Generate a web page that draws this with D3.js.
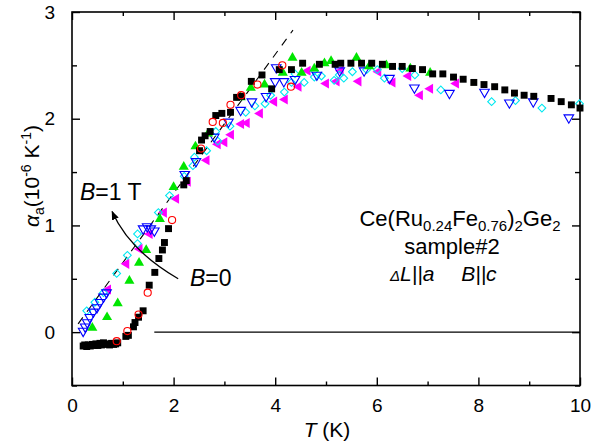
<!DOCTYPE html>
<html>
<head>
<meta charset="utf-8">
<script src="https://cdn.jsdelivr.net/npm/d3@7"></script>
<style>
  body { margin: 0; background: #fff; }
  svg { display: block; }
  text { font-family: "Liberation Sans", Arial, Helvetica, sans-serif; fill: #000; }
</style>
</head>
<body>
<svg id="chart" width="592" height="446"></svg>
<script>
// ---------- data ----------
const xLabelTicks = [0, 2, 4, 6, 8, 10];
const xAllTicks = [0, 1, 2, 3, 4, 5, 6, 7, 8, 9, 10];
const yLabelTicks = [0, 1, 2, 3];
const yAllTicks = [-0.5, 0, 0.5, 1, 1.5, 2, 2.5, 3];

// B = 0 (filled black squares)
const b0T = [0.22,0.25,0.29,0.32,0.36,0.40,0.44,0.47,0.51,0.55,0.58,0.62,0.66,0.70,0.74,0.78,0.82,0.86,0.90,
  1.06,1.11,1.21,1.24,1.31,1.40,1.52,1.63,1.71,1.78,1.82,1.90,2.20,2.25,
  2.51,2.55,2.62,2.72,2.83,2.95,3.12,3.24,3.34,3.53,3.74,3.93,4.08,4.32,4.54,4.87,5.18,5.29,
  5.49,5.70,5.90,6.11,6.31,6.50,6.70,6.90,7.10,7.30,7.51,7.70,7.91,8.11,8.32,8.52,8.71,8.90,
  9.09,9.43,9.63,9.83,10.0];
const b0A = [-0.13,-0.12,-0.135,-0.12,-0.13,-0.115,-0.125,-0.11,-0.125,-0.105,-0.12,-0.10,-0.115,-0.11,-0.12,-0.105,-0.115,-0.11,-0.10,
  -0.04,-0.03,0.05,0.09,0.14,0.20,0.44,0.56,0.69,0.77,0.84,0.97,1.38,1.42,
  1.70,1.80,1.84,1.88,2.03,2.05,2.06,2.20,2.21,2.35,2.41,2.28,2.46,2.46,2.52,2.51,2.51,2.52,
  2.52,2.52,2.52,2.51,2.49,2.49,2.47,2.46,2.42,2.42,2.39,2.37,2.34,2.32,2.30,2.27,2.24,2.22,
  2.21,2.19,2.16,2.13,2.10];

// open red circles
const redT = [0.88,1.09,1.31,1.49,1.97,2.54,2.77,2.97,3.12,3.33,3.65,4.14,4.31];
const redA = [-0.085,0.01,0.165,0.37,1.05,1.72,1.97,1.96,2.13,2.22,2.32,2.50,2.30];

// filled green up-triangles
const greenT = [0.40,0.69,0.90,1.13,1.32,1.46,1.73,2.00,2.20,2.43,2.68,3.32,3.52,3.79,4.15,4.34,
  4.52,4.77,4.97,5.10,5.60,5.85,6.19,6.66,7.05];
const greenA = [0.04,0.14,0.27,0.48,0.65,0.77,1.06,1.36,1.55,1.74,1.86,2.20,2.29,2.32,2.43,2.57,
  2.43,2.47,2.52,2.54,2.57,2.49,2.50,2.47,2.43];

// open blue down-triangles
const blueT = [0.22,0.26,0.30,0.35,0.42,0.49,0.55,0.62,0.68,1.40,1.48,1.55,1.62,2.22,2.44,2.80,
  3.08,3.32,3.54,3.82,4.00,4.02,4.17,4.39,4.82,5.27,5.75,6.25,6.74,7.43,8.12,8.61,9.08,9.78];
const blueA = [0.01,0.05,0.09,0.14,0.19,0.23,0.28,0.33,0.37,0.97,0.99,0.97,0.95,1.48,1.60,1.83,
  1.97,2.08,2.16,2.21,2.35,2.48,2.35,2.37,2.41,2.45,2.45,2.38,2.29,2.24,2.25,2.15,2.16,2.01];

// open cyan diamonds
const cyanT = [0.29,0.45,0.62,0.88,1.09,1.29,1.29,1.70,1.92,2.21,2.38,2.41,2.65,2.83,2.87,3.11,3.42,
  3.60,3.80,3.91,4.18,4.32,4.39,4.57,4.77,4.77,4.91,5.16,5.26,5.35,5.52,5.80,6.01,6.15,6.50,
  6.75,7.26,8.26,8.73,9.25,9.99];
const cyanA = [0.20,0.28,0.37,0.55,0.72,0.83,0.92,1.12,1.28,1.46,1.56,1.64,1.70,1.88,1.79,1.93,2.06,
  2.12,2.14,2.22,2.25,2.34,2.42,2.34,2.39,2.45,2.40,2.36,2.41,2.38,2.44,2.46,2.46,2.38,2.47,
  2.41,2.27,2.16,2.17,2.10,2.14];

// filled magenta left-triangles
const magT = [0.71,1.07,1.33,1.53,1.81,2.05,2.28,2.65,2.87,3.00,3.13,3.33,3.44,3.70,3.98,4.19,
  4.46,4.64,5.00,5.21,5.29,5.64,6.03,6.31,6.62,6.85,7.05,7.56];
const magA = [0.40,0.64,0.78,0.92,1.12,1.25,1.41,1.61,1.76,1.78,1.85,1.95,1.96,2.05,2.16,2.18,
  2.30,2.45,2.33,2.35,2.45,2.35,2.44,2.34,2.40,2.22,2.28,2.33];

// linear low-temperature guide line and zero reference line
const guideT = [0.12, 4.35];
const guideA = [0.078, 2.83];
const zeroT = [1.62, 10];
const zeroA = [0, 0];

// curved arrow (B = 0 -> B = 1 T)
const arrowT = [2.09, 1.12, 0.79];
const arrowA = [0.50, 0.77, 1.13];

// ---------- layout ----------
const svg = d3.select("#chart");
const x = d3.scaleLinear().domain([0, 10]).range([72, 580]);
const y = d3.scaleLinear().domain([-0.5, 3]).range([385.5, 12]);
const X0 = 72, X1 = 580, Y0 = 385.5, Y1 = 12;

// ---------- axes ----------
function styleAxis(g) {
  g.select(".domain").remove();
  g.selectAll(".tick line").attr("stroke", "#000").attr("stroke-width", 1.4);
  g.selectAll(".tick text").style("font-size", "19px").attr("fill", "#000");
}
const isMajorX = d => d % 2 === 0;
const isMajorY = d => Number.isInteger(d);

// bottom
svg.append("g").attr("transform", `translate(0,${Y0})`)
  .call(d3.axisBottom(x).tickValues(xAllTicks).tickSize(0).tickPadding(13)
    .tickFormat(d => xLabelTicks.includes(d) ? d : ""))
  .call(styleAxis)
  .call(g => g.selectAll(".tick line").attr("y2", d => isMajorX(d) ? -8 : -4));
// top
svg.append("g").attr("transform", `translate(0,${Y1})`)
  .call(d3.axisTop(x).tickValues(xAllTicks).tickSize(0).tickFormat(""))
  .call(styleAxis)
  .call(g => g.selectAll(".tick line").attr("y2", d => isMajorX(d) ? 8 : 4));
// left
svg.append("g").attr("transform", `translate(${X0},0)`)
  .call(d3.axisLeft(y).tickValues(yAllTicks).tickSize(0).tickPadding(17)
    .tickFormat(d => yLabelTicks.includes(d) ? d : ""))
  .call(styleAxis)
  .call(g => g.selectAll(".tick line").attr("x2", d => isMajorY(d) ? 8 : 5));
// right
svg.append("g").attr("transform", `translate(${X1},0)`)
  .call(d3.axisRight(y).tickValues(yAllTicks).tickSize(0).tickFormat(""))
  .call(styleAxis)
  .call(g => g.selectAll(".tick line").attr("x2", d => isMajorY(d) ? -8 : -5));

// frame
svg.append("rect").attr("x", X0).attr("y", Y1).attr("width", X1 - X0).attr("height", Y0 - Y1)
  .attr("fill", "none").attr("stroke", "#000").attr("stroke-width", 1.6);

// ---------- reference lines ----------
const line = d3.line().x(d => x(d[0])).y(d => y(d[1]));
svg.append("path").datum(d3.zip(zeroT, zeroA)).attr("d", line)
  .attr("fill", "none").attr("stroke", "#000").attr("stroke-width", 1.1);
svg.append("path").datum(d3.zip(guideT, guideA)).attr("d", line)
  .attr("fill", "none").attr("stroke", "#000").attr("stroke-width", 1.1)
  .attr("stroke-dasharray", "8,7");

// ---------- markers ----------
const series = [
  { T: magT, A: magA, type: d3.symbolTriangle, size: 44, rot: -90, fill: "#ff00ff", stroke: "none" },
  { T: cyanT, A: cyanA, type: d3.symbolSquare, size: 30, rot: 45, fill: "none", stroke: "#00e8f0" },
  { T: blueT, A: blueA, type: d3.symbolTriangle, size: 40, rot: 180, fill: "none", stroke: "#0000ff" },
  { T: greenT, A: greenA, type: d3.symbolTriangle, size: 44, rot: 0, fill: "#00e600", stroke: "none" },
  { T: b0T, A: b0A, type: d3.symbolSquare, size: 48, rot: 0, fill: "#000", stroke: "none" },
  { T: redT, A: redA, type: d3.symbolCircle, size: 40, rot: 0, fill: "none", stroke: "#ff0000" }
];
series.forEach(s => {
  const sym = d3.symbol().type(s.type).size(s.size);
  svg.append("g").selectAll("path").data(d3.zip(s.T, s.A)).join("path")
    .attr("d", sym)
    .attr("transform", d => `translate(${x(d[0])},${y(d[1])}) rotate(${s.rot})`)
    .attr("fill", s.fill)
    .attr("stroke", s.stroke)
    .attr("stroke-width", 1.1);
});

// ---------- curved arrow ----------
svg.append("defs").append("marker")
  .attr("id", "head").attr("viewBox", "0 0 10 10").attr("refX", 9).attr("refY", 5)
  .attr("markerWidth", 9).attr("markerHeight", 9).attr("markerUnits", "userSpaceOnUse")
  .attr("orient", "auto")
  .append("path").attr("d", "M0,1 L10,5 L0,9 Z").attr("fill", "#000");
const ap = arrowT.map((t, i) => [x(t), y(arrowA[i])]);
svg.append("path")
  .attr("d", `M${ap[0][0]},${ap[0][1]} Q${ap[1][0]},${ap[1][1]} ${ap[2][0]},${ap[2][1]}`)
  .attr("fill", "none").attr("stroke", "#000").attr("stroke-width", 1.3)
  .attr("marker-end", "url(#head)");

// ---------- labels ----------
function rich(sel, parts) {
  parts.forEach(p => {
    const t = sel.append("tspan").text(p.t);
    if (p.i) t.style("font-style", "italic");
    if (p.dy) t.attr("dy", p.dy);
    if (p.fs) t.style("font-size", p.fs);
  });
  return sel;
}

// B = 1 T / B = 0
rich(svg.append("text").attr("x", 80).attr("y", 200).style("font-size", "23px"),
  [{ t: "B", i: true }, { t: "=1 T" }]);
rich(svg.append("text").attr("x", 190).attr("y", 286).style("font-size", "23px"),
  [{ t: "B", i: true }, { t: "=0" }]);

// sample annotation
rich(svg.append("text").attr("x", 460).attr("y", 226).attr("text-anchor", "middle").style("font-size", "22px"),
  [{ t: "Ce(Ru" }, { t: "0.24", dy: 5, fs: "15px" }, { t: "Fe", dy: -5 }, { t: "0.76", dy: 5, fs: "15px" },
   { t: ")", dy: -5 }, { t: "2", dy: 5, fs: "15px" }, { t: "Ge", dy: -5 }, { t: "2", dy: 5, fs: "15px" }]);
svg.append("text").attr("x", 452).attr("y", 254).attr("text-anchor", "middle").style("font-size", "22px")
  .text("sample#2");
rich(svg.append("text").attr("x", 390).attr("y", 281).style("font-size", "21px"),
  [{ t: "\u0394", i: true, fs: "15px" }, { t: "L||a", i: true }, { t: "\u2003\u00a0" }, { t: "B||c", i: true }]);

// axis titles
rich(svg.append("text").attr("x", 327).attr("y", 437).attr("text-anchor", "middle").style("font-size", "21px"),
  [{ t: "T", i: true }, { t: " (K)" }]);
rich(svg.append("text").attr("transform", "translate(39,176) rotate(-90)").attr("text-anchor", "middle")
  .style("font-size", "21px"),
  [{ t: "\u03b1", i: true }, { t: "a", dy: 5, fs: "14px" }, { t: "(10", dy: -5 }, { t: "-6", dy: -8, fs: "14px" },
   { t: " K", dy: 8 }, { t: "-1", dy: -8, fs: "14px" }, { t: ")", dy: 8 }]);
</script>
</body>
</html>
